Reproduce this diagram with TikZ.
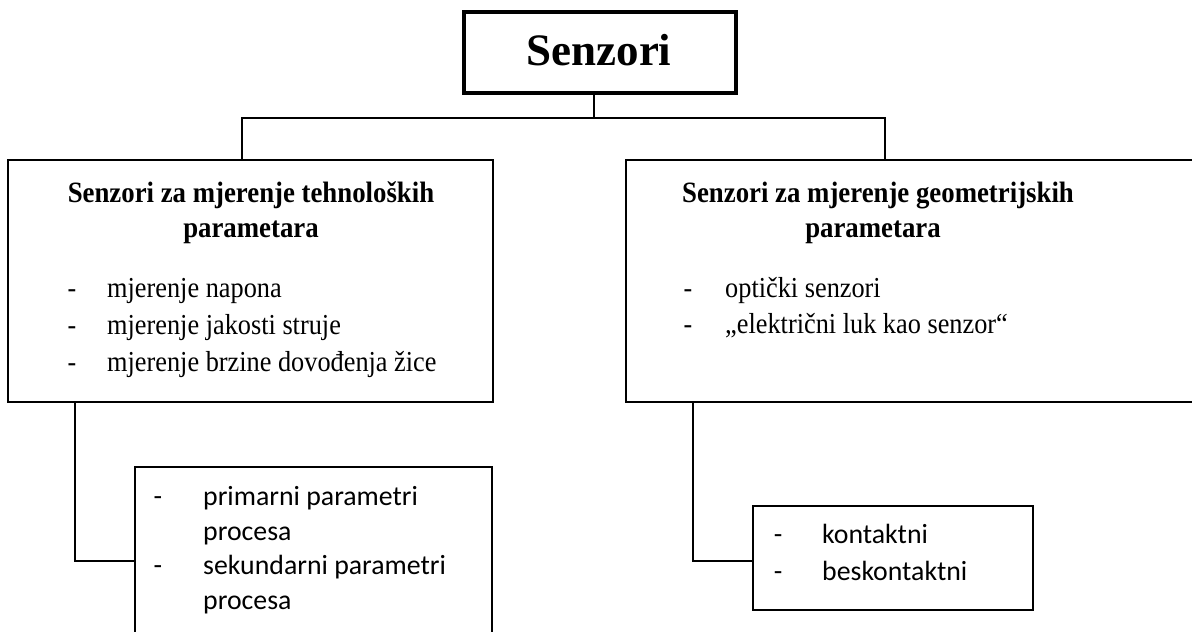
\documentclass[tikz,border=0pt]{standalone}
\usepackage{fontspec}
\setmainfont{Liberation Serif}
\newfontfamily\calib{Carlito}
\newcommand{\vs}[1]{\scalebox{1}[1.1]{#1}}
\begin{document}
\begin{tikzpicture}[x=1pt,y=-1pt,
  box/.style={draw=black,line width=2.8pt,rectangle,inner sep=0pt,fill=white},
  topbox/.style={box,line width=4pt},
  conn/.style={draw=black,line width=2.8pt},
  head/.style={anchor=base,font=\fontsize{26.8}{33}\selectfont\bfseries,inner sep=0pt},
  item/.style={anchor=base west,font=\fontsize{26.3}{32}\selectfont,inner sep=0pt},
  sitem/.style={anchor=base west,font=\fontsize{27.8}{32}\selectfont\calib,inner sep=0pt},
  dashmark/.style={anchor=base,font=\fontsize{26}{32}\selectfont,inner sep=0pt},
  sdash/.style={anchor=base,font=\fontsize{27.8}{32}\selectfont\calib,inner sep=0pt}
]
\useasboundingbox (0,0) rectangle (1192,632);
\clip (0,0) rectangle (1192,632);
\fill[white] (0,0) rectangle (1192,632);

% boxes
\node[topbox,minimum width=272pt,minimum height=81pt] (top) at (600,52.5) {};
\node[box,minimum width=485pt,minimum height=242pt] (lbox) at (250.5,281) {};
\node[box,minimum width=580pt,minimum height=242pt] (rbox) at (916,281) {};
\node[box,minimum width=357pt,minimum height=188pt] (lsub) at (313.5,561) {};
\node[box,minimum width=280pt,minimum height=104pt] (rsub) at (893,558) {};

% connector points
\coordinate (j) at (594,118);
\coordinate (ltop) at (242,160);
\coordinate (rtop) at (885,160);
\coordinate (lbot) at (75,402);
\coordinate (rbot) at (693,402);

\draw[conn] (j |- top.south) -- (j);
\draw[conn] (ltop) -- (ltop |- j) -- (rtop |- j) -- (rtop);
\draw[conn] (lbot) |- (lsub.west);
\draw[conn] (rbot) |- (rsub.west |- 0,561);

% title
\node[anchor=base,font=\fontsize{45}{50}\selectfont\bfseries,inner sep=0pt] (t) at (599,65) {Senzori};

% left header
\node[head] (lh1) at (251,202) {\vs{Senzori za mjerenje tehnoloških}};
\node[head] (lh2) at (251,237) {\vs{parametara}};
% left list
\node[dashmark] (ld1) at (72,297) {\vs{-}};
\node[item] (li1) at (107,297) {\vs{mjerenje napona}};
\node[dashmark] (ld2) at (72,334) {\vs{-}};
\node[item] (li2) at (107,334) {\vs{mjerenje jakosti struje}};
\node[dashmark] (ld3) at (72,371) {\vs{-}};
\node[item] (li3) at (107,371) {\vs{mjerenje brzine dovođenja žice}};

% right header
\node[head] (rh1) at (878,202) {\vs{Senzori za mjerenje geometrijskih}};
\node[head] (rh2) at (873,237) {\vs{parametara}};
% right list
\node[dashmark] (rd1) at (688,297) {\vs{-}};
\node[item] (ri1) at (725,297) {\vs{optički senzori}};
\node[dashmark] (rd2) at (688,333) {\vs{-}};
\node[item] (ri2) at (725,333) {\vs{„električni luk kao senzor“}};

% left sub list
\node[sdash] (sd1) at (158,505) {-};
\node[sitem] (si1) at (203,505) {primarni parametri};
\node[sitem] (si2) at (203,540) {procesa};
\node[sdash] (sd3) at (158,574) {-};
\node[sitem] (si3) at (203,574) {sekundarni parametri};
\node[sitem] (si4) at (203,609) {procesa};

% right sub list
\node[sdash] (td1) at (778,543) {-};
\node[sitem] (ti1) at (822,543) {kontaktni};
\node[sdash] (td2) at (778,580) {-};
\node[sitem] (ti2) at (822,580) {beskontaktni};
\end{tikzpicture}
\end{document}
